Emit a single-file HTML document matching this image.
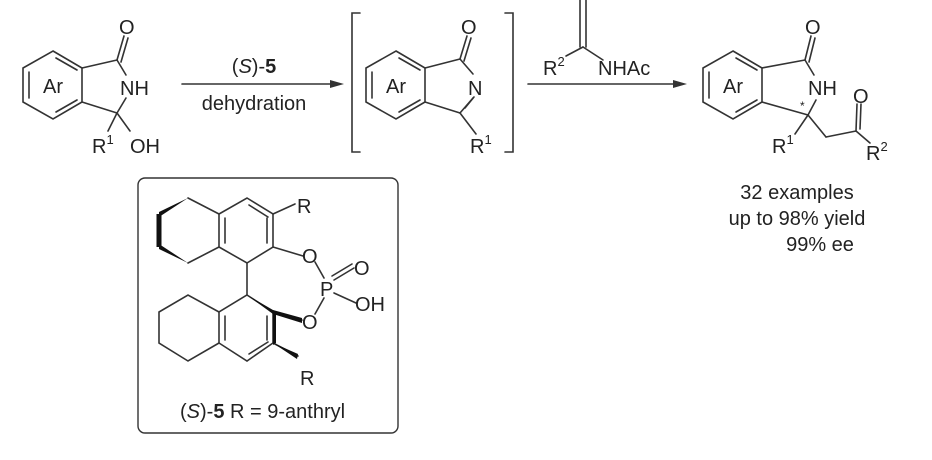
<!DOCTYPE html>
<html><head><meta charset="utf-8"><style>
html,body{margin:0;padding:0;background:#fff;}
svg{display:block;}
text{font-family:"Liberation Sans",sans-serif;fill:#222;}
</style></head><body>
<svg width="932" height="460" viewBox="0 0 932 460" xmlns="http://www.w3.org/2000/svg">
<g stroke="#333" stroke-width="1.6" fill="none" stroke-linecap="round">
<!-- left molecule -->
<polygon points="53,51 82,68 82,102 53,119 23,102 23,68"/>
<line x1="29" y1="72" x2="29" y2="98"/>
<line x1="56" y1="58" x2="77" y2="70"/>
<line x1="56" y1="112" x2="77" y2="100"/>
<line x1="82" y1="68" x2="117" y2="60"/>
<line x1="82" y1="102" x2="117" y2="113"/>
<line x1="117" y1="60" x2="126" y2="75"/>
<line x1="117" y1="60" x2="124" y2="36"/>
<line x1="121" y1="62" x2="128" y2="38"/>
<line x1="117" y1="113" x2="126" y2="98"/>
<line x1="117" y1="113" x2="108" y2="131"/>
<line x1="117" y1="113" x2="130" y2="131"/>
<!-- arrow 1 -->
<line x1="182" y1="84" x2="330" y2="84"/>
<!-- brackets -->
<polyline points="360,13 352,13 352,152 360,152"/>
<polyline points="505,13 513,13 513,152 505,152"/>
<!-- middle molecule -->
<polygon points="396,51 425,68 425,102 396,119 366,102 366,68"/>
<line x1="372" y1="72" x2="372" y2="98"/>
<line x1="399" y1="58" x2="420" y2="70"/>
<line x1="399" y1="112" x2="420" y2="100"/>
<line x1="425" y1="68" x2="460" y2="59"/>
<line x1="425" y1="102" x2="460" y2="113"/>
<line x1="460" y1="59" x2="473" y2="74"/>
<line x1="460" y1="59" x2="467" y2="36"/>
<line x1="464" y1="61" x2="471" y2="38"/>
<line x1="460" y1="113" x2="473" y2="98"/>
<line x1="465" y1="108" x2="474" y2="97"/>
<line x1="460" y1="113" x2="476" y2="134"/>
<!-- arrow 2 + reagent -->
<line x1="528" y1="84" x2="680" y2="84"/>
<line x1="580" y1="0" x2="580" y2="47"/>
<line x1="586" y1="0" x2="586" y2="47"/>
<line x1="583" y1="47" x2="566" y2="56"/>
<line x1="583" y1="47" x2="603" y2="60"/>
<!-- right molecule -->
<polygon points="733,51 762,68 762,102 733,119 703,102 703,68"/>
<line x1="709" y1="72" x2="709" y2="98"/>
<line x1="736" y1="58" x2="757" y2="70"/>
<line x1="736" y1="112" x2="757" y2="100"/>
<line x1="762" y1="68" x2="805" y2="60"/>
<line x1="762" y1="102" x2="808" y2="115"/>
<line x1="805" y1="60" x2="814" y2="75"/>
<line x1="805" y1="60" x2="811" y2="36"/>
<line x1="809" y1="62" x2="815" y2="38"/>
<line x1="808" y1="115" x2="816" y2="100"/>
<line x1="808" y1="115" x2="795" y2="134"/>
<line x1="808" y1="115" x2="826" y2="137"/>
<line x1="826" y1="137" x2="856" y2="131"/>
<line x1="856" y1="131" x2="870" y2="143"/>
<line x1="856" y1="131" x2="857" y2="104"/>
<line x1="860" y1="129" x2="861" y2="104"/>
<!-- box -->
<rect x="138" y="178" width="260" height="255" rx="7" stroke-width="1.4"/>
<!-- catalyst upper -->
<polygon points="247,198 273,214 273,247 247,263 219,247 219,214"/>
<line x1="249" y1="205" x2="268" y2="217"/>
<line x1="267" y1="218" x2="267" y2="243"/>
<line x1="225" y1="218" x2="225" y2="243"/>
<line x1="219" y1="214" x2="188" y2="198"/>
<line x1="219" y1="247" x2="188" y2="263"/>
<line x1="273" y1="214" x2="295" y2="204"/>
<line x1="273" y1="247" x2="303" y2="256"/>
<line x1="315" y1="262" x2="324" y2="278"/>
<line x1="334" y1="280" x2="354" y2="268"/>
<line x1="332" y1="276" x2="352" y2="264"/>
<line x1="334" y1="293" x2="356" y2="303"/>
<line x1="324" y1="298" x2="315" y2="314"/>
<line x1="247" y1="263" x2="247" y2="295"/>
<!-- catalyst lower -->
<polygon points="247,295 273,312 273,343 247,361 219,343 219,312"/>
<line x1="225" y1="316" x2="225" y2="340"/>
<line x1="249" y1="354" x2="268" y2="342"/>
<line x1="267" y1="316" x2="267" y2="340"/>
<polyline points="219,312 188,295 159,312 159,343 188,361 219,343"/>
<line x1="273" y1="343" x2="298" y2="356"/>
<line x1="273" y1="312" x2="302" y2="320"/>
</g>
<!-- bold wedges -->
<g fill="#111">
<polygon points="188,198 159,212 159,217"/>
<rect x="156.5" y="214" width="5" height="33"/>
<polygon points="159,244 159,249 188,263"/>
<polygon points="247,295 273,310 273,314"/>
<polygon points="273,310 273,345 276,343 276,312"/>
<polygon points="273,343 298,354 297,359"/>
<polygon points="273,310 302,318 302,323 273,314"/>
</g>
<polygon points="330,80 344,84 330,88" fill="#333"/>
<polygon points="673,80 687,84 673,88" fill="#333"/>
<g font-size="20">
<text x="53" y="93" text-anchor="middle">Ar</text>
<text x="119" y="34">O</text>
<text x="120" y="95">NH</text>
<text x="130" y="153">OH</text>
<text x="92" y="153">R<tspan font-size="13" dy="-9">1</tspan></text>
<text x="396" y="93" text-anchor="middle">Ar</text>
<text x="461" y="34">O</text>
<text x="468" y="95">N</text>
<text x="470" y="153">R<tspan font-size="13" dy="-9">1</tspan></text>
<text x="543" y="75">R<tspan font-size="13" dy="-9">2</tspan></text>
<text x="598" y="75">NHAc</text>
<text x="733" y="93" text-anchor="middle">Ar</text>
<text x="805" y="34">O</text>
<text x="808" y="95">NH</text>
<text x="853" y="103">O</text>
<text x="772" y="153">R<tspan font-size="13" dy="-9">1</tspan></text>
<text x="866" y="160">R<tspan font-size="13" dy="-9">2</tspan></text>
<text x="797" y="199" text-anchor="middle">32 examples</text>
<text x="797" y="225" text-anchor="middle">up to 98% yield</text>
<text x="820" y="251" text-anchor="middle">99% ee</text>
<text x="254" y="73" text-anchor="middle">(<tspan font-style="italic">S</tspan>)-<tspan font-weight="bold">5</tspan></text>
<text x="254" y="110" text-anchor="middle">dehydration</text>
<text x="297" y="213">R</text>
<text x="302" y="263">O</text>
<text x="320" y="296">P</text>
<text x="354" y="275">O</text>
<text x="355" y="311">OH</text>
<text x="302" y="329">O</text>
<text x="300" y="385">R</text>
<text x="180" y="418">(<tspan font-style="italic">S</tspan>)-<tspan font-weight="bold">5</tspan>  R = 9-anthryl</text>
</g>
<text x="800" y="110" font-size="12">*</text>
</svg>
</body></html>
